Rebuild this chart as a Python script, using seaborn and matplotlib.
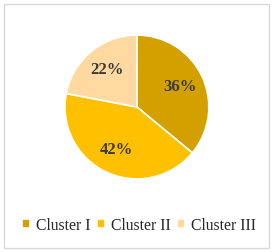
import matplotlib
matplotlib.use("Agg")
import matplotlib.pyplot as plt
import seaborn as sns
from matplotlib.patches import Rectangle

sns.set_theme(style="white")
plt.rcParams['font.family'] = ['Liberation Serif', 'DejaVu Serif']

clusters = ['Cluster I', 'Cluster II', 'Cluster III']
shares = [36, 42, 22]
colors = ['#D4A000', '#FFC000', '#FFD9A0']

fig = plt.figure(figsize=(2.73, 2.52), dpi=100)
ax = fig.add_axes([0.238, 0.29, 0.527, 0.571])

wedges, texts, autotexts = ax.pie(
    shares, colors=colors, startangle=90, counterclock=False,
    autopct='%1.0f%%', pctdistance=0.66,
    wedgeprops=dict(edgecolor='white', linewidth=1.2),
    textprops=dict(fontsize=12, color='#3a3a3a', fontweight='bold'))
ax.set_xlim(-1.0, 1.0)
ax.set_ylim(-1.0, 1.0)

fig.legend(wedges, clusters, loc='center', bbox_to_anchor=(0.51, 0.105),
           ncol=3, frameon=False, fontsize=11.3, handlelength=0.5,
           handleheight=0.5, handletextpad=0.4, columnspacing=0.4,
           borderaxespad=0)

# thin grey frame around the figure
fig.patches.append(Rectangle((0.015, 0.015), 0.97, 0.97, transform=fig.transFigure,
                             fill=False, edgecolor='#D9D9D9', linewidth=1))

fig.savefig('out.png', dpi=100)
